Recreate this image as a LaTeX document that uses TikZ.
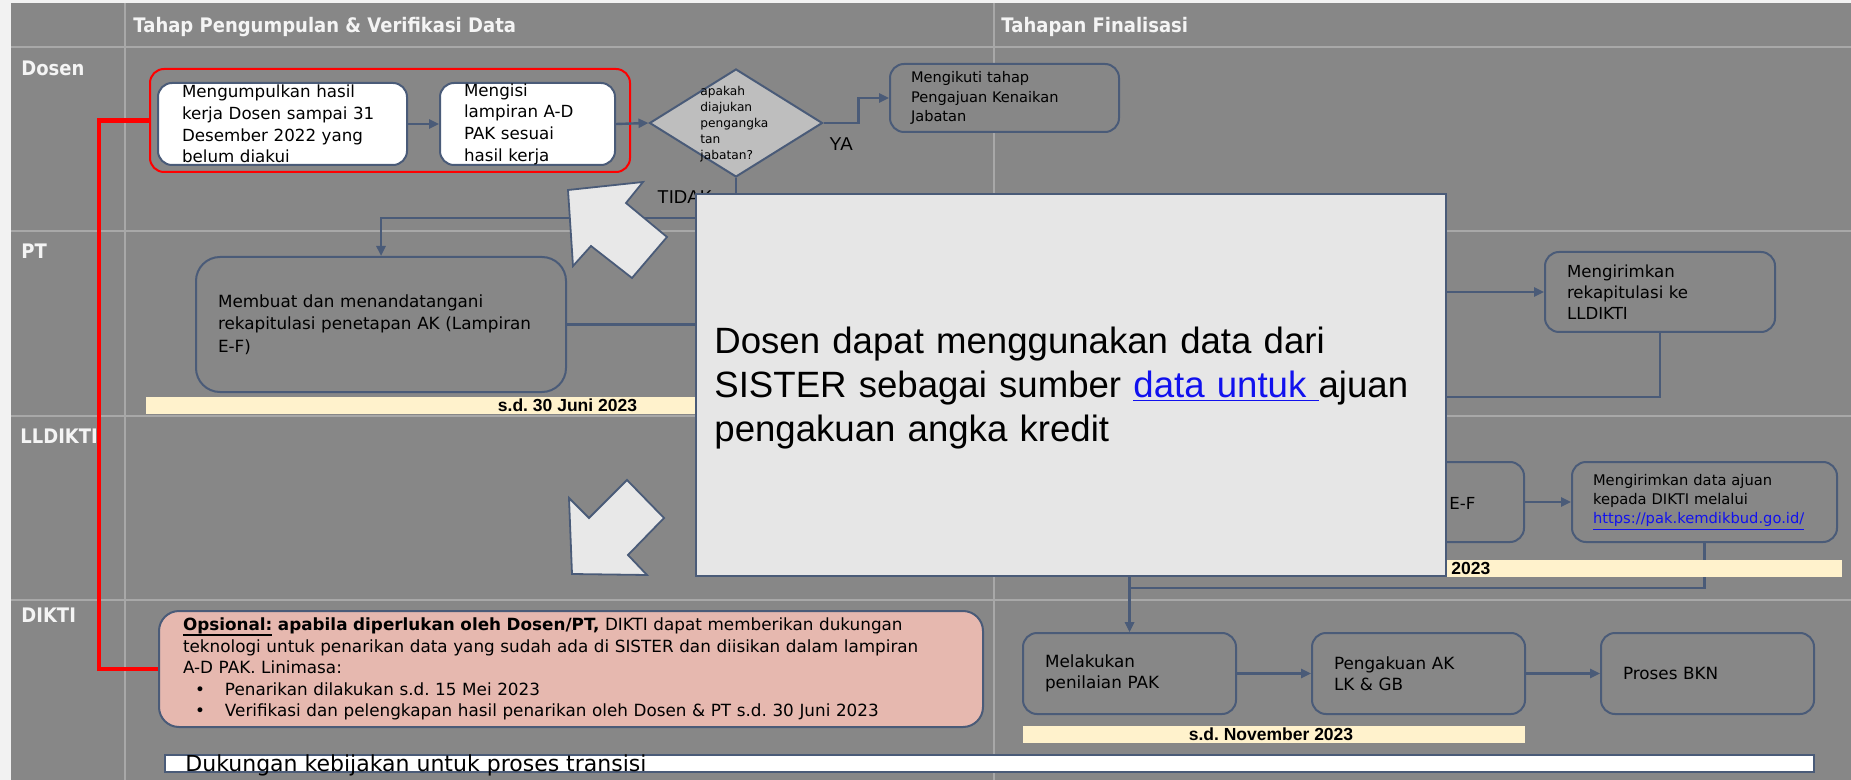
\documentclass[tikz,border=0pt]{standalone}
\usepackage{fontspec}
\setmainfont{DejaVu Sans}
\newfontfamily\hdrfont[FakeStretch=0.9]{DejaVu Sans}
\newfontfamily\arialfont{Liberation Sans}
\usetikzlibrary{arrows.meta,shapes.geometric}

\definecolor{bggray}{HTML}{878787}
\definecolor{gridc}{HTML}{A8A8A8}
\definecolor{slate}{HTML}{4A5B78}
\definecolor{diafill}{HTML}{BEBEBE}
\definecolor{callfill}{HTML}{E6E6E6}
\definecolor{arrfill}{HTML}{E8E8E8}
\definecolor{pinkc}{HTML}{E6B8AF}
\definecolor{yellowc}{HTML}{FFF2CC}
\definecolor{linkc}{HTML}{1111EE}
\definecolor{marg}{HTML}{F2F2F2}
\definecolor{lbl}{HTML}{F4F4F4}

\newcommand{\ulopt}[1]{\leavevmode\rlap{\rule[-2.6pt]{\widthof{#1}}{0.8pt}}#1}
\usepackage{calc}

\tikzset{
  box/.style={draw=slate, line width=1pt, rounded corners=7pt, align=left, inner ysep=0pt},
  whitebox/.style={box, fill=white},
  graybox/.style={box, fill=bggray},
  arr/.style={draw=slate, line width=1.2pt, -{Triangle[length=5pt,width=4.5pt]}},
  gridline/.style={draw=gridc, line width=1pt},
  lanelabel/.style={font=\hdrfont\bfseries\fontsize{10}{12}\selectfont, text=lbl, anchor=base west, inner sep=0pt},
  ybar/.style={fill=yellowc, draw=none, inner sep=0pt},
  bartext/.style={font=\arialfont\bfseries\fontsize{8.75}{10}\selectfont, inner sep=0pt},
  arialtxt/.style={font=\arialfont\fontsize{9.3}{11}\selectfont, inner sep=0pt, anchor=base west},
  bigarrow/.style={fill=arrfill, draw=slate, line width=0.9pt, line join=miter},
  diktibox/.style={graybox, minimum width=106.5pt, minimum height=40.5pt, inner xsep=11pt, text width=84.5pt, font=\fontsize{8.4}{10.5}\selectfont},
}

\begin{document}
\frenchspacing
\begin{tikzpicture}[x=0.5pt, y=-0.5pt]
\useasboundingbox (0,0) rectangle (1851,780);
\fill[marg] (0,0) rectangle (1851,780);
\fill[bggray] (11,3) rectangle (1851,780);
\foreach \yy in {47,231,416,600} \draw[gridline] (11,\yy) -- (1851,\yy);
\foreach \xx in {125,994} \draw[gridline] (\xx,3) -- (\xx,780);

% headers and lane labels
\node[lanelabel] (h1) at (133,33) {Tahap Pengumpulan \& Verifikasi Data};
\node[lanelabel] (h2) at (1001,33) {Tahapan Finalisasi};
\node[lanelabel] (l1) at (21,76) {Dosen};
\node[lanelabel] (l2) at (21,259) {PT};
\node[lanelabel] (l3) at (20,444) {LLDIKTI};
\node[lanelabel] (l4) at (21,622) {DIKTI};

% Dosen lane
\node[draw=red, line width=1pt, rounded corners=7pt, minimum width=240pt, minimum height=51.5pt, inner sep=0pt] (rb) at (390,120.5) {};
\node[whitebox, minimum width=124.5pt, minimum height=41pt, inner xsep=12pt, text width=100.5pt, font=\fontsize{8.35}{10.85}\selectfont] (b1) at (282.5,124) {Mengumpulkan hasil\\kerja Dosen sampai 31\\Desember 2022 yang\\belum diakui};
\node[whitebox, minimum width=87.5pt, minimum height=41pt, inner xsep=12pt, text width=63.5pt, font=\fontsize{8.35}{10.85}\selectfont] (b2) at (527.5,124) {Mengisi\\lampiran A-D\\PAK sesuai\\hasil kerja};
\node[diamond, draw=slate, fill=diafill, line width=1pt, minimum width=86.5pt, minimum height=54pt, inner sep=0pt] (dia) at (736,123) {};
\node[font=\fontsize{6.1}{8}\selectfont, align=left, anchor=west, inner sep=0pt] (dtx) at (700,124.5) {apakah\\diajukan\\pengangka\\tan\\jabatan?};
\node[graybox, minimum width=114.5pt, minimum height=34pt, inner xsep=10.5pt, text width=93.5pt, font=\fontsize{7.3}{9.75}\selectfont] (mk) at (1004.5,98) {Mengikuti tahap\\Pengajuan Kenaikan\\Jabatan};

% PT lane
\node[graybox, rounded corners=12pt, minimum width=185pt, minimum height=67.5pt, inner xsep=11pt, text width=163pt, font=\fontsize{8.4}{11.25}\selectfont] (pt) at (381,324.5) {Membuat dan menandatangani\\rekapitulasi penetapan AK (Lampiran\\E-F)};
\node[graybox, minimum width=115pt, minimum height=40pt, inner xsep=11pt, text width=93pt, font=\fontsize{8.3}{10.5}\selectfont] (rk) at (1660,292) {Mengirimkan\\rekapitulasi ke\\LLDIKTI};

% LLDIKTI lane
\node[graybox, minimum width=232pt, minimum height=40pt, inner sep=0pt] (ll) at (1292,502) {};
\node[font=\fontsize{8.3}{10}\selectfont, anchor=west, inner sep=0pt] (ef) at (1449,503) {E-F};
\node[graybox, minimum width=132.5pt, minimum height=40pt, inner xsep=10.5pt, text width=111.5pt, font=\fontsize{7.35}{9.5}\selectfont] (kr) at (1704.5,502) {Mengirimkan data ajuan\\kepada DIKTI melalui\\\textcolor{linkc}{\underline{https://pak.kemdikbud.go.id/}}};

% DIKTI lane
\node[diktibox] (ml) at (1129.5,673.5) {Melakukan\\penilaian PAK};
\node[diktibox] (pg) at (1418.5,673.5) {Pengakuan AK\\LK \& GB};
\node[diktibox] (bkn) at (1707.5,673.5) {Proses BKN};
\node[box, fill=pinkc, rounded corners=10pt, minimum width=412pt, minimum height=58pt, inner xsep=12pt, text width=388pt, font=\fontsize{8.4}{10.7}\selectfont] (pk) at (571,669) {\textbf{\ulopt{Opsional:} apabila diperlukan oleh Dosen/PT,} DIKTI dapat memberikan dukungan\\teknologi untuk penarikan data yang sudah ada di SISTER dan diisikan dalam lampiran\\A-D PAK. Linimasa:\\\hspace*{6pt}\makebox[15pt][l]{•}Penarikan dilakukan s.d. 15 Mei 2023\\\hspace*{6pt}\makebox[15pt][l]{•}Verifikasi dan pelengkapan hasil penarikan oleh Dosen \& PT s.d. 30 Juni 2023};

% connectors
\draw[arr] (b1.east) -- (b2.west);
\draw[arr] (b2.east) -- (dia.west);
\draw[arr] (dia.east) -- ++(35,0) |- (mk.west);
\coordinate (t1) at (736,218);
\draw[arr] (dia.south) -- (t1) -| (pt.north);
\draw[arr] (pt.east) -- (1000,324.5) |- (rk.west);
\coordinate (t2) at (1660,397);
\draw[arr] (rk.south) -- (t2) -| (ll.north);
\draw[arr] (ll.east) -- (kr.west);
\coordinate (t3) at (1704.5,588);
\draw[arr] (kr.south) -- (t3) -| (ml.north);
\draw[arr] (ll.south -| ml.north) -- (ml.north);
\draw[arr] (ml.east) -- (pg.west);
\draw[arr] (pg.east) -- (bkn.west);
\draw[red, line width=2.25pt] (rb.west) -- ++(-50,0) |- (pk.west);

% deadline bars
\node[ybar, minimum width=377pt, minimum height=8.5pt] (y1) at (523,405.5) {};
\node[bartext] (y1t) at (567.5,405.5) {s.d. 30 Juni 2023};
\node[ybar, minimum width=421pt, minimum height=8.5pt] (y2) at (1421,568.5) {};
\node[bartext, anchor=west] (y2t) at (1451,568.5) {2023};
\node[ybar, minimum width=251pt, minimum height=8.5pt] (y3) at (1274,734.5) {};
\node[bartext] (y3t) at (1271,734.5) {s.d. November 2023};
\node[fill=white, draw=slate, line width=1pt, minimum width=824.5pt, minimum height=8.5pt, inner sep=0pt] (wb) at (989.5,763.5) {};
\node[font=\fontsize{11}{13}\selectfont, anchor=base west, inner sep=0pt] (wbt) at (185,771) {Dukungan kebijakan untuk proses transisi};

% decision labels
\node[arialtxt] (tidak) at (657,204) {TIDAK};
\node[arialtxt] (ya) at (829,150.7) {YA};

% callout arrows
\draw[bigarrow] (568,190) -- (643,182) -- (626,203) -- (667,237) -- (632,278) -- (591,246) -- (573,266) -- cycle;
\draw[bigarrow] (569,498) -- (589,518) -- (627,480) -- (664,518) -- (628,555) -- (647,575) -- (572,574) -- cycle;

% callout
\node[fill=callfill, draw=slate, line width=1pt, minimum width=375pt, minimum height=191pt, inner sep=0pt] (co) at (1071,385) {};
\node[font=\arialfont\fontsize{18.3}{22}\selectfont, align=left, anchor=west, inner sep=0pt, text width=360pt] (cot) at (714,388) {Dosen dapat menggunakan data dari\\SISTER sebagai sumber \textcolor{linkc}{\underline{data untuk\ }}ajuan\\pengakuan angka kredit};
\end{tikzpicture}
\end{document}
